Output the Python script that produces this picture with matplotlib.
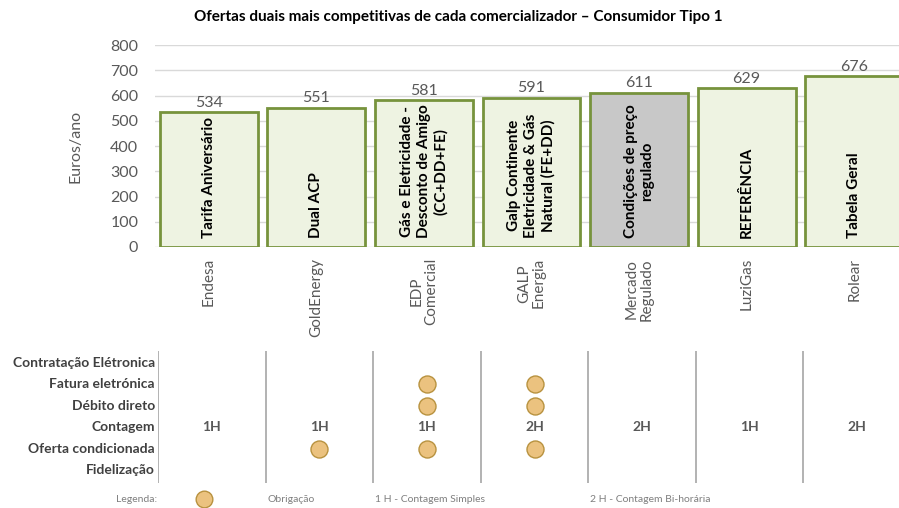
import matplotlib.pyplot as plt
from matplotlib.lines import Line2D

plt.rcParams['font.family'] = ['Lato', 'DejaVu Sans']

comercializadores = ["Endesa", "GoldEnergy", "EDP\nComercial", "GALP\nEnergia",
                     "Mercado\nRegulado", "LuziGas", "Rolear"]
ofertas = ["Tarifa Aniversário", "Dual ACP",
           "Gás e Eletricidade -\nDesconto de Amigo\n(CC+DD+FE)",
           "Galp Continente\nEletricidade & Gás\nNatural (FE+DD)",
           "Condições de preço\nregulado", "REFERÊNCIA", "Tabela Geral"]
custos = [534, 551, 581, 591, 611, 629, 676]

linhas = ["Contratação Elétronica", "Fatura eletrónica", "Débito direto",
          "Contagem", "Oferta condicionada", "Fidelização"]
contagem = ["1H", "1H", "1H", "2H", "2H", "1H", "2H"]
# (comercializador, linha) com obrigação
obrigacoes = [(1, 4), (2, 1), (2, 2), (2, 4), (3, 1), (3, 2), (3, 4)]

W, H = 899, 508
fig = plt.figure(figsize=(W / 100, H / 100), dpi=100)


def px(x0, y0, x1, y1):
    return [x0 / W, 1 - y1 / H, (x1 - x0) / W, (y1 - y0) / H]


grey = "#595959"
ax = fig.add_axes(px(155, 45, 908, 247))
n = len(custos)
xs = range(n)
faces = ["#C8C8C8" if "Regulado" in c else "#EEF3E2" for c in comercializadores]
ax.bar(xs, custos, width=0.91, color=faces, edgecolor="#77933C", linewidth=2, zorder=3)
for i, (v, t) in enumerate(zip(custos, ofertas)):
    ax.text(i, v + 10, str(v), ha="center", va="bottom", fontsize=11.5, color=grey)
    ax.text(i, 36, t, rotation=90, ha="center", va="bottom", fontsize=11,
            fontweight="bold", multialignment="center", color="black",
            linespacing=1.25, zorder=4)
ax.set_xlim(-0.5, n - 0.5)
ax.set_ylim(0, 800)
ax.set_yticks(range(0, 801, 100))
ax.grid(axis="y", color="#D9D9D9", linewidth=1, zorder=0)
for s in ax.spines.values():
    s.set_visible(False)
ax.tick_params(length=0, colors=grey, labelsize=11.5, pad=12)
ax.set_xticks(list(xs))
ax.set_xticklabels(comercializadores, rotation=90, va="top", ha="center",
                   fontsize=11, color=grey, linespacing=1.1)
ax.tick_params(axis="x", pad=8)
ax.set_ylabel("Euros/ano", fontsize=11.5, color=grey, labelpad=20)

# tabela de características
tb = fig.add_axes(px(158, 351, 911, 483))
tb.set_xlim(-0.5, n - 0.5)
tb.set_ylim(len(linhas) - 0.4, -0.55)
tb.axis("off")
for k in range(n):
    tb.axvline(k - 0.5, color="#A6A6A6", linewidth=1.2)
for j, nome in enumerate(linhas):
    tb.text(-0.53, j, nome, ha="right", va="center", fontsize=10,
            fontweight="bold", color="#404040")
row_c = linhas.index("Contagem")
for i, c in enumerate(contagem):
    tb.text(i, row_c, c, ha="center", va="center", fontsize=10,
            fontweight="bold", color=grey)
tb.scatter([o[0] for o in obrigacoes], [o[1] for o in obrigacoes], s=150,
           color="#EBC27F", edgecolor="#B8923F", linewidth=1, zorder=3, clip_on=False)

# legenda
ly = 1 - 499 / H
fig.text(157 / W, ly, "Legenda:", ha="right", va="center", fontsize=7.5, color="#7F7F7F")
fig.text(268 / W, ly, "Obrigação", ha="left", va="center", fontsize=7.5, color="#7F7F7F")
fig.text(375 / W, ly, "1 H - Contagem Simples", ha="left", va="center", fontsize=7.5, color="#7F7F7F")
fig.text(590 / W, ly, "2 H - Contagem Bi-horária", ha="left", va="center", fontsize=7.5, color="#7F7F7F")
fig.add_artist(Line2D([204 / W], [ly], marker="o", markersize=12, linestyle="none",
                      markerfacecolor="#EBC27F", markeredgecolor="#B8923F",
                      transform=fig.transFigure))

fig.text(458 / W, 1 - 17 / H, "Ofertas duais mais competitivas de cada comercializador – Consumidor Tipo 1",
         ha="center", va="center", fontsize=11, fontweight="bold")

fig.savefig("out.png", dpi=100)
